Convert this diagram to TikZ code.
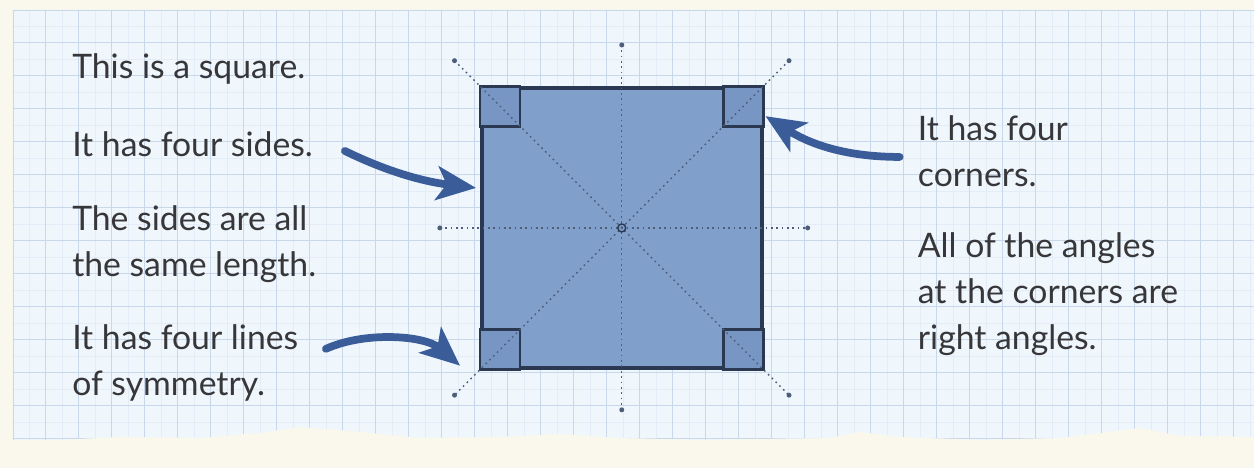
\documentclass[tikz,border=0pt]{standalone}
\usepackage{fontspec}
\setmainfont{Lato}
\usetikzlibrary{arrows.meta, positioning, calc}
\definecolor{paper}{RGB}{250,248,236}
\definecolor{gridbg}{RGB}{239,246,252}
\definecolor{gridline}{RGB}{200,215,233}
\definecolor{gridfaint}{RGB}{228,237,247}
\definecolor{sqfill}{RGB}{128,159,203}
\definecolor{cornerfill}{RGB}{120,150,196}
\definecolor{sqedge}{RGB}{42,56,82}
\definecolor{arrowblue}{RGB}{58,93,153}
\definecolor{textgrey}{RGB}{55,55,58}
\definecolor{dotline}{RGB}{78,94,122}

\begin{document}
\begin{tikzpicture}[
    x=0.025cm, y=-0.025cm,
    note/.style={anchor=base west, align=left, inner sep=0pt, text=textgrey,
      font=\fontsize{24}{33}\selectfont},
    pointer/.style={-{Stealth[length=28pt, width=24pt, inset=7pt]}, line width=5.5pt,
      draw=arrowblue, line cap=round},
    symline/.style={draw=dotline, line width=1pt, dash pattern=on 1.2pt off 2.6pt},
    corner/.style={fill=cornerfill, draw=sqedge, line width=2pt}
  ]
  % paper
  \fill[paper] (0,0) rectangle (1254,468);
  \begin{scope}
    \path[clip] (13,10) -- (1254,10) -- (1254,437) -- (1180,436) -- (1140,428)
      -- (1110,432) -- (1060,438) -- (980,440) -- (900,437) -- (860,432)
      -- (830,438) -- (700,440) -- (620,438) -- (560,434) -- (500,437)
      -- (420,438) -- (360,432) -- (300,427) -- (260,433) -- (200,438)
      -- (120,437) -- (60,440) -- (13,440) -- cycle;
    \fill[gridbg] (0,0) rectangle (1254,468);
    \foreach \gx in {29.5,62.5,...,1254} \draw[gridfaint, line width=0.5pt] (\gx,0) -- (\gx,468);
    \foreach \gy in {26.5,59.5,...,468} \draw[gridfaint, line width=0.5pt] (0,\gy) -- (1254,\gy);
    \foreach \gx in {13,46,...,1254} \draw[gridline, line width=0.7pt] (\gx,0) -- (\gx,468);
    \foreach \gy in {10,43,...,468} \draw[gridline, line width=0.7pt] (0,\gy) -- (1254,\gy);
  \end{scope}
  \draw[gridline, line width=0.7pt] (13,440) -- (13,10) -- (1254,10);

  % the square
  \node[draw=sqedge, fill=sqfill, line width=2.5pt, minimum size=7cm, inner sep=0pt] (sq) at (622,228) {};
  \draw[corner] (sq.north west) rectangle ++(40,40);
  \draw[corner] (sq.north east) rectangle ++(-40,40);
  \draw[corner] (sq.south west) rectangle ++(40,-40);
  \draw[corner] (sq.south east) rectangle ++(-40,-40);

  % lines of symmetry
  \coordinate (vtop) at (622,45);
  \coordinate (vbot) at (622,410);
  \coordinate (hl) at (440,228);
  \coordinate (hr) at (808,228);
  \coordinate (d1a) at ($(sq.north west)!-0.09!(sq.south east)$);
  \coordinate (d1b) at ($(sq.south east)!-0.09!(sq.north west)$);
  \coordinate (d2a) at ($(sq.north east)!-0.09!(sq.south west)$);
  \coordinate (d2b) at ($(sq.south west)!-0.09!(sq.north east)$);
  \draw[symline] (vtop) -- (vbot);
  \draw[symline] (hl) -- (hr);
  \draw[symline] (d1a) -- (d1b);
  \draw[symline] (d2a) -- (d2b);
  \foreach \e in {vtop,vbot,hl,hr,d1a,d1b,d2a,d2b} \fill[dotline] (\e) circle (2.5);
  \draw[sqedge, line width=1pt] (sq.center) circle (4);

  % texts (base = last line)
  \node[note] (square) at (72,79) {This is a square.};
  \node[note] (sides) at (72,157) {It has four sides.};
  \node[note] (same) at (72,277) {The sides are all\\the same length.};
  \node[note] (lines) at (72,396) {It has four lines\\of symmetry.};
  \node[note] (corners) at (918,187) {It has four\\corners.};
  \node[note] (angles) at (918,350) {All of the angles\\at the corners are\\right angles.};

  % pointers
  \draw[pointer] (345,151)
    .. controls +(45,22) and +(-50,-6) .. ([xshift=-0.1cm, yshift=1cm]sq.west);
  \draw[pointer] (326,349)
    .. controls +(40,-18) and +(-35,-30) .. ([xshift=-0.5cm, yshift=0.1cm]sq.south west);
  \draw[pointer] (900,157)
    .. controls +(-60,0) and +(40,25) .. ([xshift=0.05cm, yshift=-0.75cm]sq.north east);
\end{tikzpicture}
\end{document}
